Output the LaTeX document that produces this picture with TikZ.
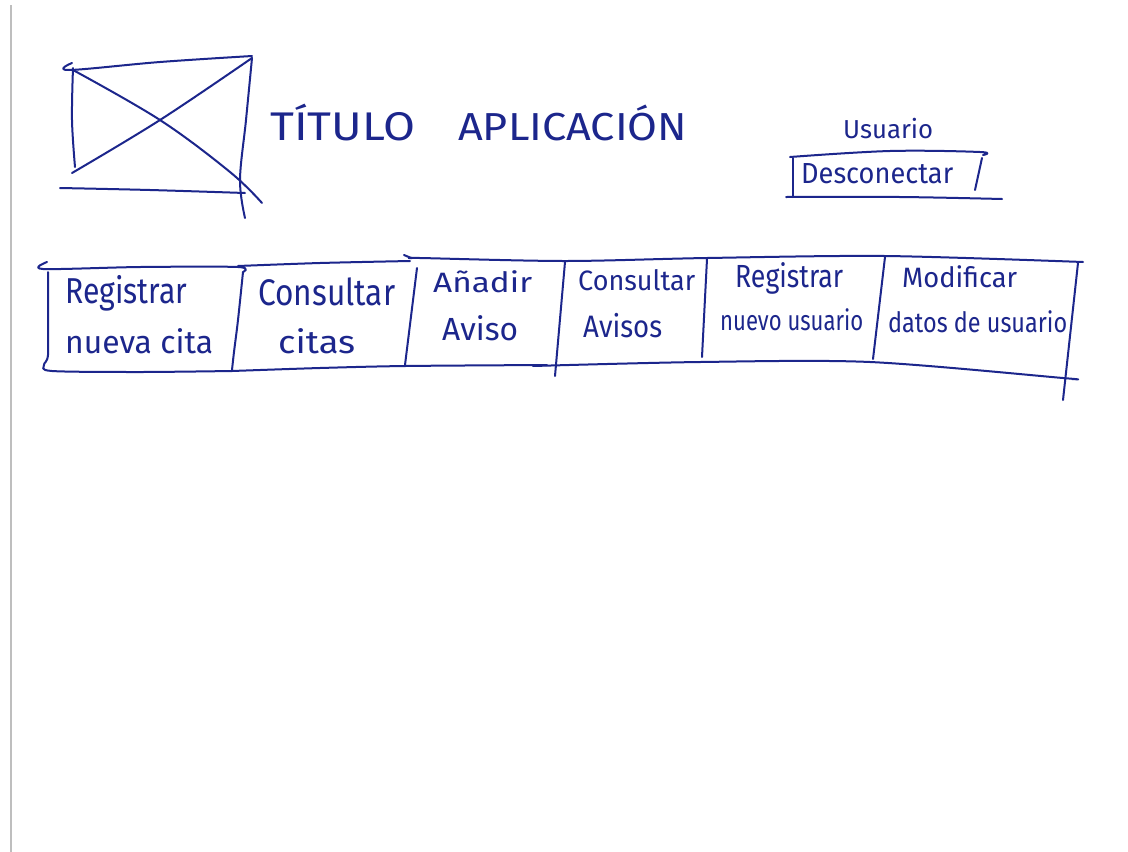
\documentclass[tikz,border=0pt]{standalone}
\usepackage{fontspec}
\usepackage{graphicx}
\setmainfont{Fira Sans}
\definecolor{ink}{RGB}{28,38,140}
\definecolor{margin}{RGB}{190,190,190}
% stretch a word to a given width, keeping its natural height
\newcommand{\fitw}[2]{\resizebox{#1pt}{\height}{#2}}
\begin{document}
\begin{tikzpicture}[x=1pt,y=-1pt,
  pen/.style={draw=ink,line width=2pt,line cap=round,line join=round},
  lbl/.style={inner sep=0pt,anchor=base west,text=ink}]
\useasboundingbox[fill=white] (0,0) rectangle (1128,852);

% paper margin
\draw[margin,line width=1.2pt] (11,5) -- (11,852);

% logo placeholder
\draw[pen] plot[smooth,tension=0.6] coordinates {(72,63) (69,70) (160,62) (252,56)};
\draw[pen] plot[smooth,tension=0.6] coordinates {(73,68) (72,120) (75,167)};
\draw[pen] plot[smooth,tension=0.6] coordinates {(252,58) (246,120) (240,180) (245,218)};
\draw[pen] plot[smooth,tension=0.6] coordinates {(60,188) (150,190) (245,193)};
\draw[pen] plot[smooth,tension=0.6] coordinates {(73,70) (160,120) (230,172) (262,203)};
\draw[pen] plot[smooth,tension=0.6] coordinates {(72,173) (160,120) (252,58)};

% application title
\node[lbl,font=\fontsize{40}{48}\selectfont] (titulo) at (270,140) {\fitw{145}{TÍTULO}};
\node[lbl,font=\fontsize{39}{48}\selectfont] (aplic) at (458,140) {\fitw{229}{APLICACIÓN}};

% user area
\node[lbl,font=\fontsize{26}{32}\selectfont] (usuario) at (843,138) {\fitw{90}{Usuario}};
\draw[pen] plot[smooth,tension=0.6] coordinates {(790,157) (890,151) (980,152) (983,155)};
\draw[pen] (793,158) -- (793,197);
\draw[pen] plot[smooth,tension=0.6] coordinates {(786,197) (900,197) (1002,199)};
\draw[pen] (982,158) -- (975,190);
\node[lbl,font=\fontsize{29}{35}\selectfont] (descon) at (801,183) {\fitw{152}{Desconectar}};

% menu bar: first tab (selected)
\draw[pen] plot[smooth,tension=0.5] coordinates {(47,262) (43,269) (140,267) (238,267) (243,272)};
\draw[pen] plot[smooth,tension=0.5] coordinates {(48,272) (48,310) (48,355) (44,365) (52,371) (140,372) (232,371)};
\draw[pen] plot[smooth,tension=0.5] coordinates {(243,272) (238,320) (234,352) (232,370)};

% remaining tabs
\draw[pen] plot[smooth,tension=0.5] coordinates {(238,266) (320,263) (410,261)};
\draw[pen] plot[smooth,tension=0.5] coordinates {(404,255) (412,258) (420,258) (565,261) (707,258) (885,256) (1083,262)};
\draw[pen] plot[smooth,tension=0.5] coordinates {(232,371) (320,368) (405,366) (547,365)};
\draw[pen] plot[smooth,tension=0.5] coordinates {(533,366) (700,362) (870,362) (1063,378) (1072,379)};
\draw[pen] (417,268) -- (405,365);
\draw[pen] (565,262) -- (555,376);
\draw[pen] (707,259) -- (702,357);
\draw[pen] (885,257) -- (873,359);
\draw[pen] (1078,263) -- (1063,400);

% tab labels
\node[lbl,font=\fontsize{36}{42}\selectfont] (t1a) at (65,303) {\fitw{122}{Registrar}};
\node[lbl,font=\fontsize{32}{38}\selectfont] (t1b) at (65,353) {\fitw{148}{nueva cita}};
\node[lbl,font=\fontsize{37}{42}\selectfont] (t2a) at (258,305) {\fitw{137}{Consultar}};
\node[lbl,font=\fontsize{32}{38}\selectfont] (t2b) at (278,353) {\fitw{77}{citas}};
\node[lbl,font=\fontsize{28}{34}\selectfont] (t3a) at (433,292) {\fitw{99}{Añadir}};
\node[lbl,font=\fontsize{32}{38}\selectfont] (t3b) at (442,340) {\fitw{76}{Aviso}};
\node[lbl,font=\fontsize{28}{34}\selectfont] (t4a) at (578,290) {\fitw{117}{Consultar}};
\node[lbl,font=\fontsize{31}{36}\selectfont] (t4b) at (583,337) {\fitw{79}{Avisos}};
\node[lbl,font=\fontsize{32}{38}\selectfont] (t5a) at (735,287) {\fitw{108}{Registrar}};
\node[lbl,font=\fontsize{28}{34}\selectfont] (t5b) at (720,330) {\fitw{143}{nuevo usuario}};
\node[lbl,font=\fontsize{28}{34}\selectfont] (t6a) at (902,287) {\fitw{115}{Modificar}};
\node[lbl,font=\fontsize{28}{34}\selectfont] (t6b) at (888,332) {\fitw{179}{datos de usuario}};
\end{tikzpicture}
\end{document}
